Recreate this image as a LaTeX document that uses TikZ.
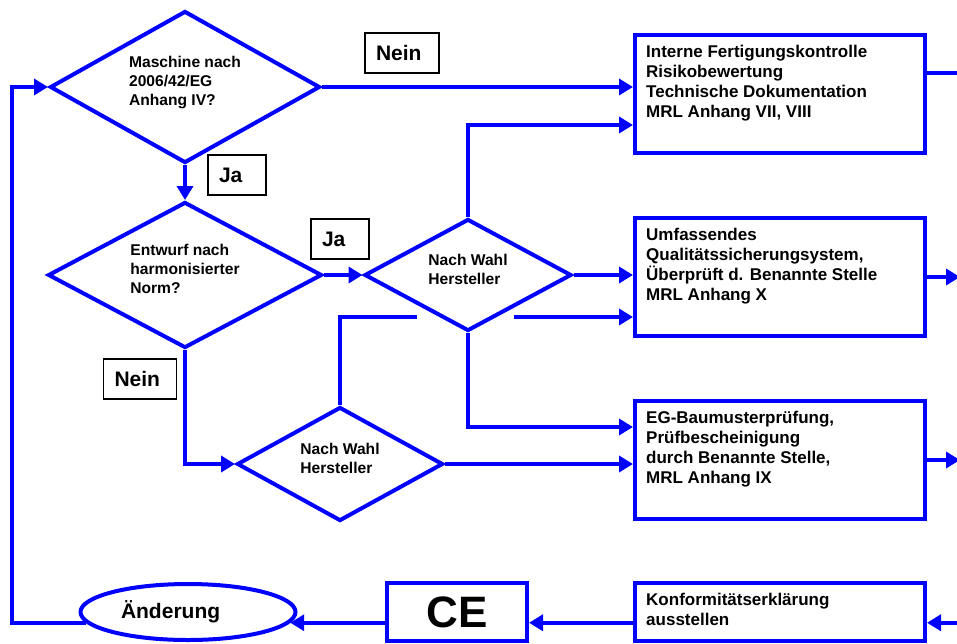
\documentclass[tikz,border=0pt]{standalone}
\usepackage{fontspec}
\setmainfont{Liberation Sans}
\usetikzlibrary{shapes.geometric, arrows.meta, calc}
\definecolor{flowblue}{RGB}{0,0,255}

\begin{document}
\begin{tikzpicture}[x=1pt, y=-1pt,
  verbindung/.style={draw=flowblue, line width=4pt},
  pfeil/.style={verbindung, -{Triangle[length=14pt,width=16pt]}},
  frage/.style={diamond, aspect=1.8, draw=flowblue, line width=4pt, inner sep=0pt, align=left, font=\fontsize{15.6}{19}\selectfont\bfseries, execute at end node={\rule[-12pt]{0pt}{12pt}}},
  kasten/.style={rectangle, draw=flowblue, line width=4pt, minimum width=290pt, minimum height=118pt, inner sep=0pt},
  kastentext/.style={anchor=north west, inner sep=0pt, align=left, font=\fontsize{17}{20}\selectfont\bfseries},
  antwort/.style={draw=black, line width=1.5pt, minimum height=40pt, inner xsep=11pt, text width=#1, align=left, font=\fontsize{21}{24}\selectfont\bfseries}]
\useasboundingbox (0,0) rectangle (957,643);
\clip (0,0) rectangle (957,643);
% Fragen:
\node[frage, minimum width=270pt, minimum height=152pt] (d1) at (185,87) {Maschine nach\\2006/42/EG\\Anhang IV?};
\node[frage, minimum width=274pt, minimum height=146pt] (d2) at (185,275) {Entwurf nach\\harmonisierter\\Norm?};
\node[frage, minimum width=207pt, minimum height=112pt] (d3) at (468,275) {Nach Wahl\\Hersteller};
\node[frage, minimum width=206pt, minimum height=114pt] (d4) at (340,464) {Nach Wahl\\Hersteller};
% Verfahren:
\node[kasten] (b1) at (780,94) {};
\node[kasten] (b2) at (780,277) {};
\node[kasten] (b3) at (780,460) {};
\node[kasten, minimum height=58pt] (b4) at (780,612) {};
\node[kastentext] (t1) at ($(b1.north west)+(13,12)$) {Interne Fertigungskontrolle\\Risikobewertung\\Technische Dokumentation\\MRL Anhang VII, VIII};
\node[kastentext] (t2) at ($(b2.north west)+(13,12)$) {Umfassendes\\Qualitätssicherungsystem,\\Überprüft d. Benannte Stelle\\MRL Anhang X};
\node[kastentext] (t3) at ($(b3.north west)+(13,12)$) {EG-Baumusterprüfung,\\Prüfbescheinigung\\durch Benannte Stelle,\\MRL Anhang IX};
\node[kastentext] (t4) at ($(b4.north west)+(13,12)$) {Konformitätserklärung\\ausstellen};
\node[draw=flowblue, line width=4pt, minimum width=140pt, minimum height=58pt, font=\fontsize{44}{44}\selectfont\bfseries] (ce) at (457,612) {CE};
\node[ellipse, draw=flowblue, line width=4pt, minimum width=215pt, minimum height=56pt, text width=134pt, align=left, font=\fontsize{21}{24}\selectfont\bfseries] (aend) at (188,612) {Änderung};
% Antworten:
\node[antwort=52pt] (nein1) at (402,53) {Nein};
\node[antwort=36pt] (ja1) at (237,175) {Ja};
\node[antwort=36pt] (ja2) at (340,239) {Ja};
\node[antwort=51pt] (nein2) at (140,379) {Nein};
\coordinate (zurueck) at (12,400);
\coordinate (rand) at (960,0);
\coordinate (luecke1) at (417,317);
\coordinate (luecke2) at (514,317);
\draw[pfeil] (d1.east) -- (d1.east -| b1.west);
\draw[pfeil] (d1.south) -- (d2.north);
\draw[pfeil] (d2.east) -- (d3.west);
\draw[pfeil] (d2.south) |- (d4.west);
\draw[pfeil] (d3.north) |- ($(b1.west)+(0,31)$);
\draw[pfeil] (d3.east) -- (d3.east -| b2.west);
\draw[pfeil] (d3.south) |- ($(b3.west)+(0,-33)$);
\draw[verbindung] (d4.north) |- (luecke1);
\draw[pfeil] (luecke2) -- (luecke2 -| b2.west);
\draw[pfeil] (d4.east) -- (d4.east -| b3.west);
% Rand rechts:
\draw[verbindung] ($(b1.east)+(0,-21)$) -- (rand |- {$(b1.east)+(0,-21)$});
\draw[pfeil] (b2.east) -- (b2.east -| rand);
\draw[pfeil] (b3.east) -- (b3.east -| rand);
\draw[pfeil] (rand |- aend.-6) -- (b4.east |- aend.-6);
% Rueckweg:
\draw[pfeil] (b4.west |- aend.-6) -- (ce.east |- aend.-6);
\draw[pfeil] (ce.west |- aend.-6) -- (aend.-6);
\draw[pfeil] (aend.186) -- (aend.186 -| zurueck) |- (d1.west);
\end{tikzpicture}
\end{document}
